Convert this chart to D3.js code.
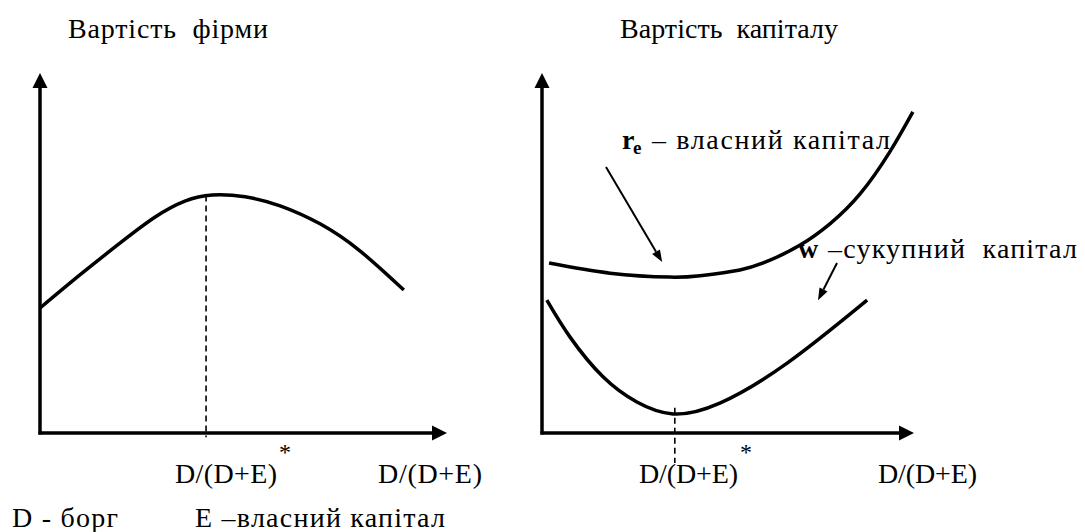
<!DOCTYPE html>
<html><head><meta charset="utf-8">
<script src="https://cdn.jsdelivr.net/npm/d3@7"></script>
<style>
body{margin:0;background:#fff}
</style>
</head><body>
<svg id="c" width="1085" height="532"></svg>
<script>
// ---- data (x = D/(D+E) share of axis, y = share of axis height) ----
const firmX = [0, 0.098, 0.197, 0.283, 0.356, 0.423, 0.504, 0.590, 0.688, 0.786, 0.894];
const firmY = [0.347, 0.439, 0.528, 0.600, 0.644, 0.661, 0.656, 0.631, 0.581, 0.506, 0.397];
const firmOptimumX = 0.408;
const firmOptimumY = 0.660;

const equityX = [0.019, 0.183, 0.344, 0.425, 0.532, 0.613, 0.694, 0.774, 0.855, 0.935, 0.997];
const equityY = [0.472, 0.444, 0.433, 0.437, 0.453, 0.480, 0.522, 0.581, 0.664, 0.781, 0.892];

const waccX = [0.013, 0.075, 0.164, 0.255, 0.352, 0.478, 0.659, 0.874];
const waccY = [0.369, 0.267, 0.156, 0.086, 0.053, 0.083, 0.194, 0.369];
const waccOptimumX = 0.357;
const waccOptimumTop = 0.07;

const titles = ["Вартість  фірми", "Вартість  капіталу"];
const axisLabel = "D/(D+E)";
const starMark = "*";
const legendTexts = ["D - борг", "E –власний капітал"];
const equityLabel = {sym: "r", sub: "e", text: "– власний капітал"};
const waccLabel = {sym: "w", text: "–сукупний  капітал"};

// ---- drawing ----
const FONT = "Liberation Serif";
const svg = d3.select("#c");
const yTop = 73, yBottom = 433;

const panels = [
  {x0: 40, x1: 447},
  {x0: 542, x1: 914}
];
panels.forEach(p => {
  p.x = d3.scaleLinear().domain([0, 1]).range([p.x0, p.x1]);
  p.y = d3.scaleLinear().domain([0, 1]).range([yBottom, yTop]);
});

const aLen = 15, aHalf = 7.5;
function drawAxes(p) {
  const g = svg.append("g");
  const X0 = p.x(0), Y0 = p.y(0);
  g.append("line").attr("x1", X0).attr("y1", Y0 + 1.5).attr("x2", X0).attr("y2", p.y(1) + aLen - 1)
    .attr("stroke", "#000").attr("stroke-width", 3.5);
  g.append("path").attr("d", `M${X0},${p.y(1)} L${X0 - aHalf},${p.y(1) + aLen} L${X0 + aHalf},${p.y(1) + aLen} Z`).attr("fill", "#000");
  g.append("line").attr("x1", X0 - 1.5).attr("y1", Y0).attr("x2", p.x(1) - aLen + 1).attr("y2", Y0)
    .attr("stroke", "#000").attr("stroke-width", 3.5);
  g.append("path").attr("d", `M${p.x(1)},${Y0} L${p.x(1) - aLen},${Y0 - aHalf} L${p.x(1) - aLen},${Y0 + aHalf} Z`).attr("fill", "#000");
}
panels.forEach(drawAxes);

function curve(p, xs, ys) {
  const line = d3.line().x(d => p.x(d[0])).y(d => p.y(d[1])).curve(d3.curveNatural);
  svg.append("path").attr("d", line(xs.map((v, i) => [v, ys[i]])))
    .attr("fill", "none").attr("stroke", "#000").attr("stroke-width", 3.5);
}
function dashed(p, xv, y0, y1) {
  svg.append("line").attr("x1", p.x(xv)).attr("x2", p.x(xv)).attr("y1", p.y(y0)).attr("y2", p.y(y1))
    .attr("stroke", "#000").attr("stroke-width", 1.6).attr("stroke-dasharray", "6,4");
}
function arrow(p, from, to) {
  const x1 = p.x(from[0]), y1 = p.y(from[1]), x2 = p.x(to[0]), y2 = p.y(to[1]);
  const ang = Math.atan2(y2 - y1, x2 - x1), L = 12, H = 4.5;
  const bx = x2 - L * Math.cos(ang), by = y2 - L * Math.sin(ang);
  svg.append("line").attr("x1", x1).attr("y1", y1).attr("x2", bx).attr("y2", by)
    .attr("stroke", "#000").attr("stroke-width", 2);
  const px = -Math.sin(ang) * H, py = Math.cos(ang) * H;
  svg.append("path").attr("d", `M${x2},${y2} L${bx + px},${by + py} L${bx - px},${by - py} Z`).attr("fill", "#000");
}

const L = panels[0], R = panels[1];
dashed(L, firmOptimumX, firmOptimumY, -0.012);
curve(L, firmX, firmY);
dashed(R, waccOptimumX, waccOptimumTop, -0.083);
curve(R, waccX, waccY);
curve(R, equityX, equityY);
arrow(R, [0.172, 0.739], [0.323, 0.475]);
arrow(R, [0.793, 0.472], [0.742, 0.369]);

function txt(x, y, s, size, len, weight) {
  const t = svg.append("text").attr("x", x).attr("y", y).attr("font-family", FONT).attr("font-size", size)
    .attr("font-weight", weight || "normal").attr("fill", "#000").style("white-space", "pre").text(s);
  if (len) t.attr("textLength", len).attr("lengthAdjust", "spacing");
  return t;
}
txt(68, 38, titles[0], 28, 200);
txt(620, 38, titles[1], 28, 218);
txt(175, 483, axisLabel, 28, 102);
txt(378, 483, axisLabel, 28, 104);
txt(639, 483, axisLabel, 28, 99);
txt(878, 483, axisLabel, 28, 99);
txt(279, 460, starMark, 24);
txt(740, 460, starMark, 24);
txt(12, 527, legendTexts[0], 28, 106);
txt(195, 527, legendTexts[1], 28, 250);

// r_e label
txt(622, 149, equityLabel.sym, 28, null, "bold");
txt(633, 154, equityLabel.sub, 19, null, "bold");
txt(652, 149, equityLabel.text, 28, 238);
// w label
txt(798, 258, waccLabel.sym, 28, null, "bold");
txt(828, 258, waccLabel.text, 28, 249);
</script>
</body></html>
